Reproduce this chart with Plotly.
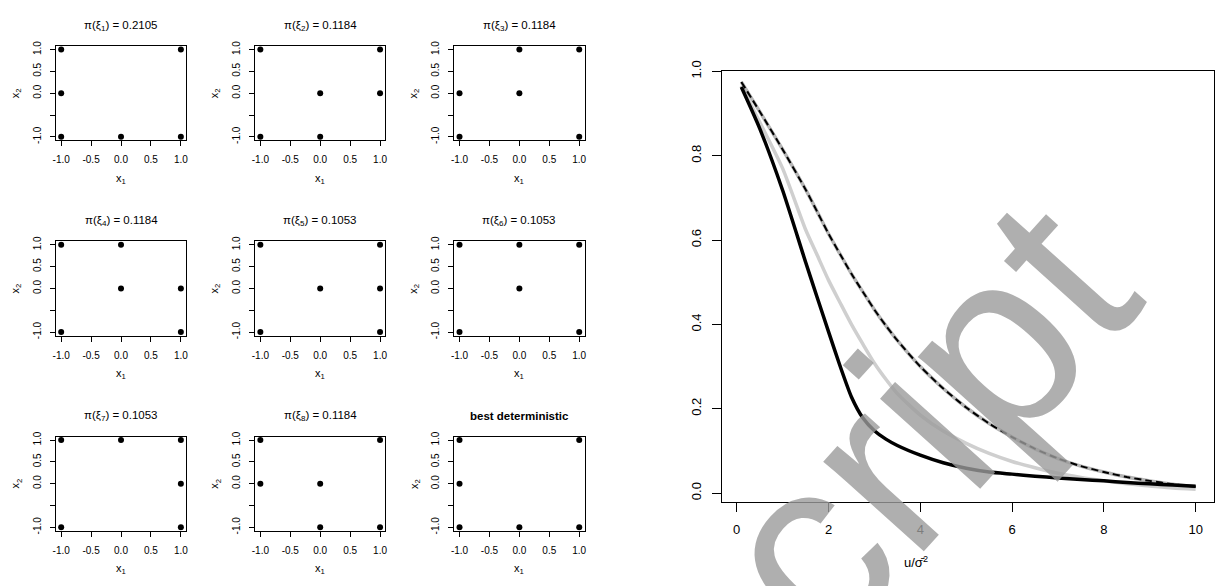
import plotly.graph_objects as go

W, H = 1218, 586
FONT = "Liberation Sans, Arial, sans-serif"

# ---------------- data ----------------
design_titles = [
    "π(ξ<sub>1</sub>) = 0.2105", "π(ξ<sub>2</sub>) = 0.1184", "π(ξ<sub>3</sub>) = 0.1184",
    "π(ξ<sub>4</sub>) = 0.1184", "π(ξ<sub>5</sub>) = 0.1053", "π(ξ<sub>6</sub>) = 0.1053",
    "π(ξ<sub>7</sub>) = 0.1053", "π(ξ<sub>8</sub>) = 0.1184", "<b>best deterministic</b>",
]
design_x1 = [
    [-1, 1, -1, -1, 0, 1],
    [-1, 1, 0, 1, -1, 0],
    [0, 1, -1, 0, -1, 1],
    [-1, 0, 0, 1, -1, 1],
    [-1, 1, 0, 1, -1, 1],
    [-1, 0, 1, 0, -1, 1],
    [-1, 0, 1, 1, -1, 1],
    [-1, 1, -1, 0, 0, 1],
    [-1, 1, -1, -1, 0, 1],
]
design_x2 = [
    [1, 1, 0, -1, -1, -1],
    [1, 1, 0, 0, -1, -1],
    [1, 1, 0, 0, -1, -1],
    [1, 1, 0, 0, -1, -1],
    [1, 1, 0, 0, -1, -1],
    [1, 1, 1, 0, -1, -1],
    [1, 1, 1, 0, -1, -1],
    [1, 1, 0, 0, -1, -1],
    [1, 1, 0, -1, -1, -1],
]
x_label = "x<sub>1</sub>"
y_label = "x<sub>2</sub>"

small_tickvals = [-1.0, -0.5, 0.0, 0.5, 1.0]
small_xticktext = ["-1.0", "-0.5", "0.0", "0.5", "1.0"]
small_yticktext = ["-1.0", "", "0.0", "0.5", "1.0"]

u_vals = [0.1, 0.5, 1.0, 1.5, 1.75, 2.0, 2.25, 2.5, 2.75, 3.0, 3.25, 3.5, 4.0, 4.5, 5.0,
          5.5, 6.0, 6.5, 7.0, 7.5, 8.0, 8.5, 9.0, 9.5, 10.0]
black_vals = [0.963, 0.865, 0.718, 0.548, 0.465, 0.383, 0.302, 0.228, 0.178, 0.148, 0.128,
              0.113, 0.090, 0.072, 0.059, 0.050, 0.045, 0.040, 0.036, 0.032, 0.029, 0.025,
              0.022, 0.019, 0.016]
gray_vals = [0.966, 0.880, 0.770, 0.625, 0.565, 0.505, 0.452, 0.400, 0.353, 0.308, 0.270,
             0.236, 0.185, 0.147, 0.118, 0.094, 0.075, 0.060, 0.047, 0.037, 0.029, 0.022,
             0.017, 0.012, 0.009]
dashed_vals = [0.975, 0.905, 0.815, 0.720, 0.668, 0.615, 0.567, 0.520, 0.477, 0.435, 0.397,
               0.362, 0.300, 0.248, 0.203, 0.165, 0.133, 0.105, 0.082, 0.064, 0.050, 0.038,
               0.029, 0.021, 0.015]
big_xticks = [0, 2, 4, 6, 8, 10]
big_yticks = [0.0, 0.2, 0.4, 0.6, 0.8, 1.0]
x_title_big = "u/σ̄<sup>2</sup>"
watermark_text = "script"

# ---------------- figure ----------------
fig = go.Figure()
layout = dict(
    width=W, height=H, margin=dict(l=0, r=0, t=0, b=0),
    paper_bgcolor="white", plot_bgcolor="white", showlegend=False,
    font=dict(family=FONT, color="black"),
)
annotations = []


def px_x(p):
    return p / W


def px_y(p):
    return 1 - p / H


axis_common = dict(showgrid=False, zeroline=False, showline=True, mirror=True,
                   linecolor="black", linewidth=1, ticks="outside", tickcolor="black",
                   tickwidth=1)

for i in range(9):
    r, c = divmod(i, 3)
    left, right = 53 + 200 * c, 184 + 200 * c
    top, bottom = 37 + 200 * r, 133.5 + 200 * r
    k = "" if i == 0 else str(i + 1)
    layout["xaxis" + k] = dict(
        axis_common, domain=[px_x(left), px_x(right)], range=[-1.09, 1.09],
        anchor="y" + k, tickvals=small_tickvals, ticktext=small_xticktext,
        ticklen=5, tickfont=dict(size=10), ticklabelstandoff=5)
    layout["yaxis" + k] = dict(
        axis_common, domain=[px_y(bottom), px_y(top)], range=[-1.08, 1.08],
        anchor="x" + k, tickvals=small_tickvals, ticktext=small_yticktext,
        ticklen=5, tickfont=dict(size=10), tickangle=-90, ticklabelstandoff=5)
    fig.add_trace(go.Scatter(
        x=design_x1[i], y=design_x2[i], mode="markers", xaxis="x" + k, yaxis="y" + k,
        marker=dict(color="black", size=6), hoverinfo="skip"))
    cx = (left + right) / 2
    annotations.append(dict(text=design_titles[i], x=px_x(cx), y=px_y(16 + 200 * r),
                            xref="paper", yref="paper", showarrow=False,
                            xanchor="center", yanchor="middle", font=dict(size=11.5)))
    annotations.append(dict(text=x_label, x=px_x(cx), y=px_y(173 + 200 * r),
                            xref="paper", yref="paper", showarrow=False,
                            xanchor="center", yanchor="middle", font=dict(size=11)))
    annotations.append(dict(text=y_label, x=px_x(13 + 200 * c), y=px_y((top + bottom) / 2),
                            xref="paper", yref="paper", showarrow=False, textangle=-90,
                            xanchor="center", yanchor="middle", font=dict(size=11)))

# big panel
layout["xaxis10"] = dict(
    axis_common, domain=[px_x(722), px_x(1216)], range=[-0.32, 10.4], anchor="y10",
    tickvals=big_xticks, ticktext=[str(t) for t in big_xticks],
    ticklen=9, tickfont=dict(size=13), ticklabelstandoff=6)
layout["yaxis10"] = dict(
    axis_common, domain=[px_y(504), px_y(62)], range=[-0.021, 1.002], anchor="x10",
    tickvals=big_yticks, ticktext=["%.1f" % t for t in big_yticks],
    ticklen=9, tickfont=dict(size=13), tickangle=-90, ticklabelstandoff=6)

line_shape = dict(shape="spline", smoothing=0.6)
fig.add_trace(go.Scatter(x=u_vals, y=gray_vals, mode="lines", xaxis="x10", yaxis="y10",
                         line=dict(color="#cfcfcf", width=3.5, **line_shape),
                         hoverinfo="skip"))
fig.add_trace(go.Scatter(x=u_vals, y=dashed_vals, mode="lines", xaxis="x10", yaxis="y10",
                         line=dict(color="#b5b5b5", width=3.5, **line_shape),
                         hoverinfo="skip"))
fig.add_trace(go.Scatter(x=u_vals, y=dashed_vals, mode="lines", xaxis="x10", yaxis="y10",
                         line=dict(color="black", width=2, dash="7px,4px", **line_shape),
                         hoverinfo="skip"))
fig.add_trace(go.Scatter(x=u_vals, y=black_vals, mode="lines", xaxis="x10", yaxis="y10",
                         line=dict(color="black", width=3.5, **line_shape),
                         hoverinfo="skip"))

annotations.append(dict(text=x_title_big, x=px_x(917), y=px_y(565),
                        xref="paper", yref="paper", showarrow=False,
                        xanchor="center", yanchor="middle", font=dict(size=13)))

# watermark
annotations.append(dict(text=watermark_text, x=px_x(880), y=px_y(470), xref="paper",
                        yref="paper", showarrow=False, textangle=-48, xanchor="center",
                        yanchor="middle",
                        font=dict(size=255, color="#9c9c9c", family=FONT), opacity=0.8))

layout["annotations"] = annotations
fig.update_layout(**layout)
fig.write_html(
    "out.html",
    config={"displayModeBar": False, "staticPlot": True},
    post_script="document.body.style.margin='0';document.body.style.overflow='hidden';",
)
